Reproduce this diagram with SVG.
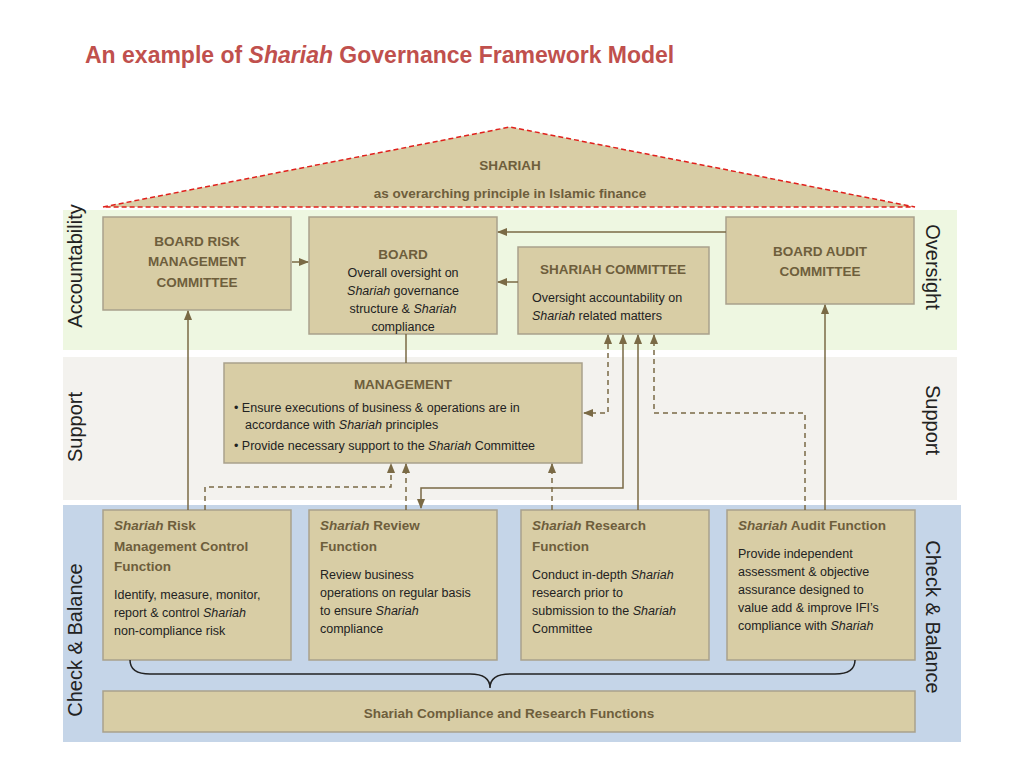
<svg xmlns="http://www.w3.org/2000/svg" width="1024" height="768" viewBox="0 0 1024 768">
<style>
text{font-family:"Liberation Sans","DejaVu Sans",sans-serif;}
.box{fill:#D8CDA5;stroke:#A9A18C;stroke-width:1.5}
.h{font-size:13.5px;font-weight:bold;fill:#6E5E3C;text-anchor:middle}
.hl{font-size:13.5px;font-weight:bold;fill:#6E5E3C}
.t{font-size:12.5px;fill:#222}
.tc{font-size:12.5px;fill:#222;text-anchor:middle}
.side{font-size:20px;fill:#222;text-anchor:middle}
.s{stroke:#7A6A45;stroke-width:1.5;fill:none}
.d{stroke:#7A6A45;stroke-width:1.5;fill:none;stroke-dasharray:5,4}
</style>
<defs>
<marker id="a" viewBox="0 0 10 10" refX="9" refY="5" markerWidth="7" markerHeight="7" orient="auto-start-reverse"><path d="M0,1 L10,5 L0,9 z" fill="#7A6A45"/></marker>
</defs>
<rect width="1024" height="768" fill="#fff"/>
<text x="85" y="63" font-size="23" font-weight="bold" fill="#C0504D">An example of <tspan font-style="italic">Shariah</tspan> Governance Framework Model</text>
<rect x="63" y="210" width="894" height="140" fill="#EEF7E1"/>
<rect x="63" y="357" width="894" height="143" fill="#F3F2EE"/>
<rect x="63" y="505" width="898" height="237" fill="#C5D5E8"/>
<g id="roof">
<polygon points="103,207 510,127 915,207" fill="#D8CDA5" stroke="#E0201C" stroke-width="1.5" stroke-dasharray="5,3"/>
<text x="510" y="170" class="h" font-size="15">SHARIAH</text>
<text x="510" y="198" class="h" font-size="15">as overarching principle in Islamic finance</text>
</g>
<text class="side" transform="translate(82,266) rotate(-90)">Accountability</text>
<text class="side" transform="translate(82,427) rotate(-90)">Support</text>
<text class="side" transform="translate(82,640) rotate(-90)">Check &amp; Balance</text>
<text class="side" transform="translate(926,267) rotate(90)">Oversight</text>
<text class="side" transform="translate(926,420) rotate(90)">Support</text>
<text class="side" transform="translate(926,617) rotate(90)">Check &amp; Balance</text>
<g id="brmc"><rect class="box" x="103" y="217" width="188" height="93"/>
<text class="h" x="197" y="246">BOARD RISK</text><text class="h" x="197" y="266">MANAGEMENT</text><text class="h" x="197" y="287">COMMITTEE</text></g>
<g id="board"><rect class="box" x="309" y="217" width="188" height="117"/>
<text class="h" x="403" y="259">BOARD</text>
<text class="tc" x="403" y="277">Overall oversight on</text>
<text class="tc" x="403" y="295"><tspan font-style="italic">Shariah</tspan> governance</text>
<text class="tc" x="403" y="313">structure &amp; <tspan font-style="italic">Shariah</tspan></text>
<text class="tc" x="403" y="331">compliance</text></g>
<g id="sc"><rect class="box" x="518" y="247" width="191" height="87"/>
<text class="h" x="613" y="274">SHARIAH COMMITTEE</text>
<text class="t" x="532" y="302">Oversight accountability on</text>
<text class="t" x="532" y="320"><tspan font-style="italic">Shariah</tspan> related matters</text></g>
<g id="bac"><rect class="box" x="726" y="217" width="188" height="87"/>
<text class="h" x="820" y="256">BOARD AUDIT</text><text class="h" x="820" y="276">COMMITTEE</text></g>
<g id="mgmt"><rect class="box" x="224" y="363" width="358" height="100"/>
<text class="h" x="403" y="389">MANAGEMENT</text>
<text class="t" x="234" y="412">• Ensure executions of business &amp; operations are in</text>
<text class="t" x="245" y="429">accordance with <tspan font-style="italic">Shariah</tspan> principles</text>
<text class="t" x="234" y="450">• Provide necessary support to the <tspan font-style="italic">Shariah</tspan> Committee</text></g>
<g id="risk"><rect class="box" x="103" y="510" width="188" height="150"/>
<text class="hl" x="114" y="530"><tspan font-style="italic">Shariah</tspan> Risk</text>
<text class="hl" x="114" y="551">Management Control</text>
<text class="hl" x="114" y="571">Function</text>
<text class="t" x="114" y="599">Identify, measure, monitor,</text>
<text class="t" x="114" y="617">report &amp; control <tspan font-style="italic">Shariah</tspan></text>
<text class="t" x="114" y="635">non-compliance risk</text></g>
<g id="review"><rect class="box" x="309" y="510" width="188" height="150"/>
<text class="hl" x="320" y="530"><tspan font-style="italic">Shariah</tspan> Review</text>
<text class="hl" x="320" y="551">Function</text>
<text class="t" x="320" y="579">Review business</text>
<text class="t" x="320" y="597">operations on regular basis</text>
<text class="t" x="320" y="615">to ensure <tspan font-style="italic">Shariah</tspan></text>
<text class="t" x="320" y="633">compliance</text></g>
<g id="research"><rect class="box" x="521" y="510" width="188" height="150"/>
<text class="hl" x="532" y="530"><tspan font-style="italic">Shariah</tspan> Research</text>
<text class="hl" x="532" y="551">Function</text>
<text class="t" x="532" y="579">Conduct in-depth <tspan font-style="italic">Shariah</tspan></text>
<text class="t" x="532" y="597">research prior to</text>
<text class="t" x="532" y="615">submission to the <tspan font-style="italic">Shariah</tspan></text>
<text class="t" x="532" y="633">Committee</text></g>
<g id="audit"><rect class="box" x="727" y="510" width="188" height="150"/>
<text class="hl" x="738" y="530"><tspan font-style="italic">Shariah</tspan> Audit Function</text>
<text class="t" x="738" y="558">Provide independent</text>
<text class="t" x="738" y="576">assessment &amp; objective</text>
<text class="t" x="738" y="594">assurance designed to</text>
<text class="t" x="738" y="612">value add &amp; improve IFI’s</text>
<text class="t" x="738" y="630">compliance with <tspan font-style="italic">Shariah</tspan></text></g>
<g id="bar"><rect class="box" x="103" y="691" width="812" height="41"/>
<text class="h" x="509" y="718" font-size="15">Shariah Compliance and Research Functions</text></g>
<g id="connectors">
<path d="M130,660 Q130,674 150,674 L470,674 Q490,674 490,688 Q490,674 510,674 L835,674 Q855,674 855,660" fill="none" stroke="#222" stroke-width="1.5"/>
<path class="s" d="M292,262 L308,262" marker-end="url(#a)"/>
<path class="s" d="M726,232 L498,232" marker-end="url(#a)"/>
<path class="s" d="M518,282 L498,282" marker-end="url(#a)"/>
<path class="s" d="M406,334 L406,363"/>
<path class="s" d="M188,510 L188,311" marker-end="url(#a)"/>
<path class="s" d="M825,510 L825,305" marker-end="url(#a)"/>
<path class="d" d="M608,335 L608,413 L584,413" marker-start="url(#a)" marker-end="url(#a)"/>
<path class="s" d="M623,335 L623,488 L421,488 L421,508" marker-start="url(#a)" marker-end="url(#a)"/>
<path class="s" d="M638,510 L638,335" marker-end="url(#a)"/>
<path class="d" d="M805,510 L805,413 L654,413 L654,335" marker-end="url(#a)"/>
<path class="d" d="M205,510 L205,487 L391,487 L391,464" marker-end="url(#a)"/>
<path class="d" d="M406,510 L406,464" marker-end="url(#a)"/>
<path class="d" d="M552,510 L552,464" marker-end="url(#a)"/>
</g>
</svg>
